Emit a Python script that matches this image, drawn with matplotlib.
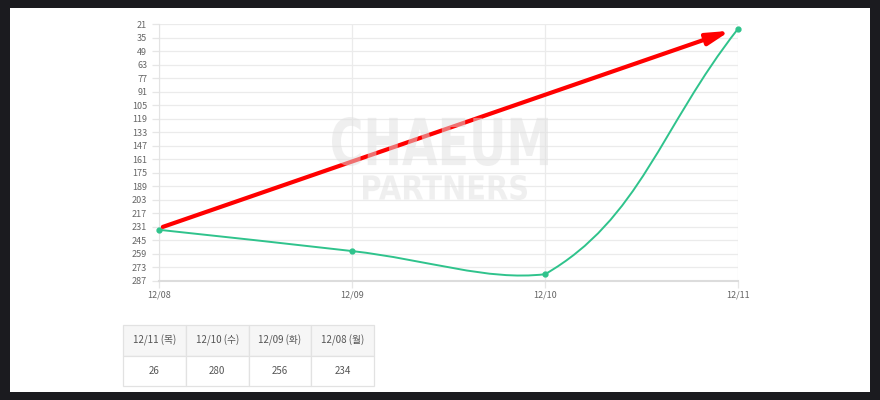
import matplotlib
matplotlib.use("Agg")
import matplotlib.pyplot as plt
import numpy as np
from matplotlib.path import Path
from matplotlib.patches import PathPatch, Rectangle
from matplotlib.textpath import TextPath
from matplotlib.font_manager import FontProperties

plt.rcParams['font.family'] = ['Noto Sans CJK KR', 'DejaVu Sans']

# data
dates = ["12/08", "12/09", "12/10", "12/11"]
values = [234, 256, 280, 26]
yticks = list(range(21, 288, 14))
table_head = ["12/11 (목)", "12/10 (수)", "12/09 (화)", "12/08 (월)"]
table_vals = ["26", "280", "256", "234"]
# red annotation arrow (x index, value)
arrow_start = (0.02, 231)
arrow_end = (2.96, 28)

W, H = 880, 400
fig = plt.figure(figsize=(W / 100, H / 100), dpi=100)
fig.patch.set_facecolor('#1b1b1f')
# white page inside the dark frame
fig.patches.append(Rectangle((10 / W, 8 / H), 860 / W, 384 / H, transform=fig.transFigure,
                             facecolor='white', edgecolor='none', zorder=-5))


def ax_rect(x0, y0, x1, y1):
    return [x0 / W, 1 - y1 / H, (x1 - x0) / W, (y1 - y0) / H]


ax = fig.add_axes(ax_rect(159, 24, 738, 281))
ax.set_facecolor('none')
ax.set_xlim(0, 3)
ax.set_ylim(287, 21)
ax.set_yticks(yticks)
ax.set_xticks(range(len(dates)))
ax.set_xticklabels(dates)
ax.grid(True, color='#ebebeb', lw=0.9)
ax.tick_params(colors='#e6e6e6', labelcolor='#666666', labelsize=6.5, length=5, width=0.9)
ax.tick_params(axis='x', pad=2)
for s in ['top', 'right']:
    ax.spines[s].set_visible(False)
ax.spines['left'].set_color('#e3e3e3')
ax.spines['bottom'].set_color('#dcdcdc')
ax.spines['bottom'].set_linewidth(1.5)

# Chart.js style bezier (tension 0.4, pixel space, control points capped to the chart area)
fig.canvas.draw()
x = np.arange(len(values), dtype=float)
pts = ax.transData.transform(np.column_stack([x, values]))
bb = ax.bbox
t = 0.4
cps = []
for i in range(len(pts)):
    p0 = pts[max(i - 1, 0)]
    p1 = pts[i]
    p2 = pts[min(i + 1, len(pts) - 1)]
    d01 = np.hypot(*(p1 - p0))
    d12 = np.hypot(*(p2 - p1))
    tot = d01 + d12
    s01 = d01 / tot if tot else 0
    s12 = d12 / tot if tot else 0
    c1 = p1 - t * s01 * (p2 - p0)
    c2 = p1 + t * s12 * (p2 - p0)
    for c in (c1, c2):
        c[0] = min(max(c[0], bb.x0), bb.x1)
        c[1] = min(max(c[1], bb.y0), bb.y1)
    cps.append((c1, c2))
verts = [pts[0]]
codes = [Path.MOVETO]
for i in range(len(pts) - 1):
    verts += [cps[i][1], cps[i + 1][0], pts[i + 1]]
    codes += [Path.CURVE4] * 3
verts = ax.transData.inverted().transform(np.array(verts))
ax.add_patch(PathPatch(Path(verts, codes), facecolor='none', edgecolor='#2fc38c', lw=1.4, zorder=3))
ax.plot(x, values, 'o', color='#2fc38c', ms=3.5, zorder=4, clip_on=False)

# red arrow
ax.annotate("", xy=arrow_end, xytext=arrow_start,
            arrowprops=dict(arrowstyle='-|>,head_length=0.85,head_width=0.22', color='#ff0000',
                            lw=3.0, mutation_scale=16, shrinkA=0, shrinkB=0),
            zorder=5, annotation_clip=False)


# watermark, fitted to a pixel box
def watermark(text, x0, y0, x1, y1):
    tp = TextPath((0, 0), text, size=50, prop=FontProperties(family='DejaVu Sans', weight='bold'))
    v = tp.vertices.copy()
    ext = tp.get_extents()
    v[:, 0] = (x0 + (v[:, 0] - ext.x0) / ext.width * (x1 - x0)) / W
    v[:, 1] = 1 - (y1 - (v[:, 1] - ext.y0) / ext.height * (y1 - y0)) / H
    fig.patches.append(PathPatch(Path(v, tp.codes), transform=fig.transFigure,
                                 facecolor='#e0e0e0', edgecolor='none', alpha=0.5, zorder=10))


watermark("CHAEUM", 332, 117, 548, 166)
watermark("PARTNERS", 363, 175, 527, 200)

# table
tax = fig.add_axes(ax_rect(123, 325, 374, 386))
tax.axis('off')
tbl = tax.table(cellText=[table_head, table_vals], bbox=[0, 0, 1, 1], cellLoc='center')
tbl.auto_set_font_size(False)
for (r, c), cell in tbl.get_celld().items():
    cell.set_edgecolor('#e2e2e2')
    cell.set_linewidth(0.9)
    cell.set_facecolor('#f6f6f6' if r == 0 else 'white')
    cell.get_text().set_fontsize(7)
    cell.get_text().set_color('#555555')

fig.savefig("out.png", dpi=100, facecolor=fig.get_facecolor())
